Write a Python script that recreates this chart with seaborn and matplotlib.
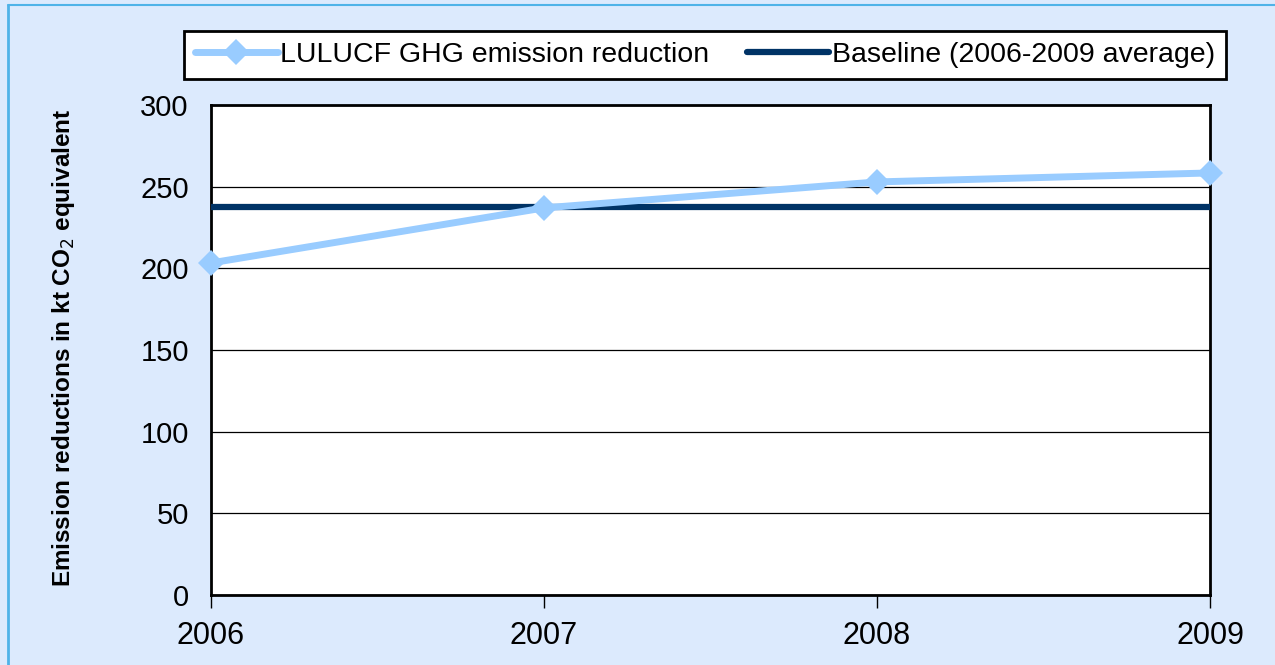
import matplotlib
matplotlib.use("Agg")
import matplotlib.pyplot as plt
import seaborn as sns
import pandas as pd
from matplotlib.lines import Line2D

years = [2006, 2007, 2008, 2009]
reductions = [203.3, 237.0, 252.9, 258.4]
baseline_value = 237.6
yticks = [0, 50, 100, 150, 200, 250, 300]

sns.set_style("white")
plt.rcParams['font.family'] = ['Liberation Sans', 'DejaVu Sans']
plt.rcParams['text.color'] = 'black'
plt.rcParams['axes.labelcolor'] = 'black'
plt.rcParams['xtick.color'] = 'black'
plt.rcParams['ytick.color'] = 'black'

bg = "#dceafd"
fig = plt.figure(figsize=(12.75, 6.65), dpi=100, facecolor=bg)
ax = fig.add_axes([211/1275, 1-595/665, (1210-211)/1275, (595-105)/665])
ax.set_facecolor("white")

df = pd.DataFrame({"year": years, "value": reductions})
df_base = pd.DataFrame({"year": years, "value": [baseline_value]*len(years)})

sns.lineplot(data=df, x="year", y="value", ax=ax, color="#99ccff", lw=5,
             marker="D", markersize=13, markeredgewidth=0, zorder=4, clip_on=False)
sns.lineplot(data=df_base, x="year", y="value", ax=ax, color="#003366", lw=4.5,
             zorder=3)

ax.set_xlim(years[0], years[-1])
ax.set_ylim(0, 300)
ax.set_yticks(yticks)
ax.set_xticks(years)
ax.set_xticklabels([str(y) for y in years], fontsize=22)
ax.set_yticklabels([str(v) for v in yticks], fontsize=21)
ax.grid(axis="y", color="black", lw=0.9)
ax.grid(axis="x", visible=False)
for s in ax.spines.values():
    s.set_color("black")
    s.set_linewidth(2)
ax.tick_params(axis="x", bottom=True, direction="out", length=9, width=1,
               color="black", pad=10)
ax.tick_params(axis="y", left=False, length=0, pad=16)
ax.set_xlabel("")
ax.set_ylabel("Emission reductions in kt CO$_2$ equivalent", fontsize=17.5,
              fontweight="bold")
ax.yaxis.set_label_coords((77-211)/999, 0.505)

handles = [
    Line2D([], [], color="#99ccff", lw=5, marker="D", markersize=13, markeredgewidth=0),
    Line2D([], [], color="#003366", lw=4.5),
]
leg = fig.legend(handles, ["LULUCF GHG emission reduction", "Baseline (2006-2009 average)"],
                 loc="center", bbox_to_anchor=(705/1275, 1-55/665), ncol=2,
                 fontsize=20.5, frameon=True, fancybox=False, framealpha=1,
                 edgecolor="black", handlelength=2.9, handletextpad=0.1,
                 columnspacing=1.3, borderpad=0.4, borderaxespad=0)
leg.get_frame().set_linewidth(2)

# figure border (left and top)
fig.add_artist(Line2D([7.5/1275, 7.5/1275], [0, 1-5/665], transform=fig.transFigure,
                      color="#4fb3e8", lw=2))
fig.add_artist(Line2D([7.5/1275, 1], [1-5/665, 1-5/665], transform=fig.transFigure,
                      color="#4fb3e8", lw=1.5))

fig.savefig("out.png", dpi=100, facecolor=bg)
